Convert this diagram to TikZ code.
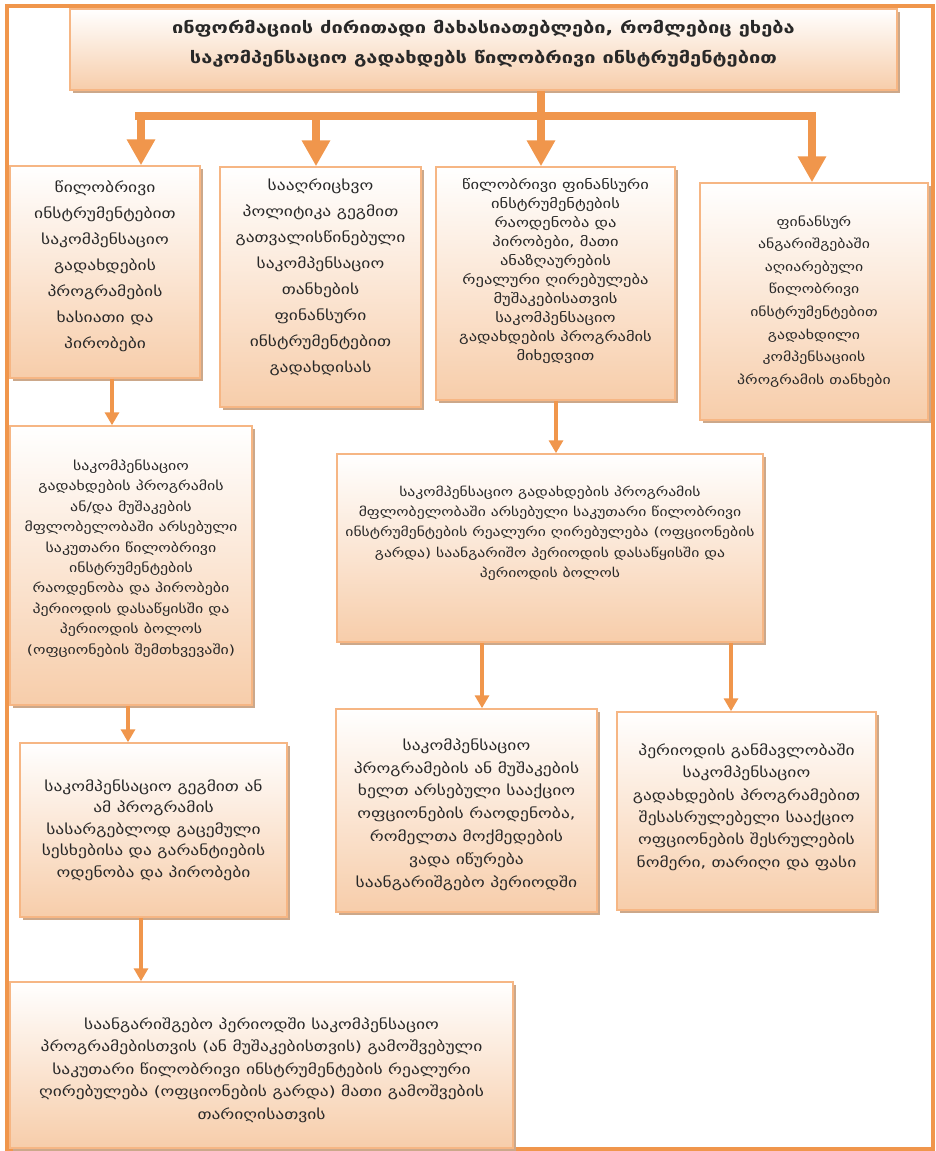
\documentclass[tikz,border=0pt]{standalone}
\usepackage{fontspec}
\setmainfont{DejaVu Sans}[FakeStretch=1.25]
\usetikzlibrary{arrows.meta,shadows}
\definecolor{frameor}{RGB}{240,150,76}
\definecolor{boxline}{RGB}{246,182,132}
\definecolor{peach}{RGB}{247,205,170}
\definecolor{shade}{RGB}{204,168,138}
\definecolor{txt}{RGB}{40,40,40}
\tikzset{
  infobox/.style={draw=boxline, line width=1.5pt, top color=white, bottom color=peach,
    inner sep=0pt,
    drop shadow={shadow xshift=3pt, shadow yshift=-3pt, fill=shade, opacity=1}},
  boxtext/.style={align=center, text=txt, inner sep=0pt, font=\fontsize{14}{22.5}\selectfont},
  trunk/.style={draw=frameor, line width=8pt},
  bigarrow/.style={draw=frameor, line width=8pt, -{Triangle[width=27pt,length=26pt]}},
  smallarrow/.style={draw=frameor, line width=4pt, -{Triangle[width=14pt,length=13pt]}},
}
\begin{document}
\begin{tikzpicture}[x=1pt,y=-1pt]
\useasboundingbox (0,0) rectangle (936,1151);
% outer frame
\draw[frameor, line width=4pt] (6.5,5.5) rectangle (933,1149);

% boxes
\node[infobox, minimum width=827pt, minimum height=81pt] (title) at (483.5,49.5) {};
\node[infobox, minimum width=190pt, minimum height=212pt] (boxA) at (105,272) {};
\node[infobox, minimum width=201pt, minimum height=240pt] (boxB) at (320.5,287) {};
\node[infobox, minimum width=239pt, minimum height=233pt] (boxC) at (555.5,283.5) {};
\node[infobox, minimum width=228pt, minimum height=237pt] (boxD) at (814,301.5) {};
\node[infobox, minimum width=242pt, minimum height=279pt] (boxE) at (131,565.5) {};
\node[infobox, minimum width=426pt, minimum height=188pt] (boxF) at (550,548) {};
\node[infobox, minimum width=267pt, minimum height=174pt] (boxG) at (153.5,830) {};
\node[infobox, minimum width=261pt, minimum height=203pt] (boxH) at (466.5,810.5) {};
\node[infobox, minimum width=259pt, minimum height=198pt] (boxI) at (746.5,811) {};
\node[infobox, minimum width=503pt, minimum height=166pt] (boxJ) at (261.5,1065) {};

% texts
\node[boxtext, font=\bfseries\fontsize{16}{30}\selectfont] (tTitle) at ([yshift=6pt]title.center)
  {ინფორმაციის ძირითადი მახასიათებლები, რომლებიც ეხება\\საკომპენსაციო გადახდებს წილობრივი ინსტრუმენტებით};
\node[boxtext, font=\fontsize{14}{26}\selectfont] (tA) at ([yshift=6pt]boxA.center)
  {წილობრივი\\ინსტრუმენტებით\\საკომპენსაციო\\გადახდების\\პროგრამების\\ხასიათი და\\პირობები};
\node[boxtext, font=\fontsize{14}{26}\selectfont] (tB) at ([yshift=10pt]boxB.center)
  {სააღრიცხვო\\პოლიტიკა გეგმით\\გათვალისწინებული\\საკომპენსაციო\\თანხების\\ფინანსური\\ინსტრუმენტებით\\გადახდისას};
\node[boxtext, font=\fontsize{13.2}{19}\selectfont] (tC) at ([yshift=12pt]boxC.center)
  {წილობრივი ფინანსური\\ინსტრუმენტების\\რაოდენობა და\\პირობები, მათი\\ანაზღაურების\\რეალური ღირებულება\\მუშაკებისათვის\\საკომპენსაციო\\გადახდების პროგრამის\\მიხედვით};
\node[boxtext, font=\fontsize{12.6}{22.6}\selectfont] (tD) at (boxD.center)
  {ფინანსურ\\ანგარიშგებაში\\აღიარებული\\წილობრივი\\ინსტრუმენტებით\\გადახდილი\\კომპენსაციის\\პროგრამის თანხები};
\node[boxtext, font=\fontsize{12.7}{20.4}\selectfont] (tE) at ([yshift=7pt]boxE.center)
  {საკომპენსაციო\\გადახდების პროგრამის\\ან/და მუშაკების\\მფლობელობაში არსებული\\საკუთარი წილობრივი\\ინსტრუმენტების\\რაოდენობა და პირობები\\პერიოდის დასაწყისში და\\პერიოდის ბოლოს\\(ოფციონების შემთხვევაში)};
\node[boxtext, font=\fontsize{12.5}{20.3}\selectfont] (tF) at ([yshift=15pt]boxF.center)
  {საკომპენსაციო გადახდების პროგრამის\\მფლობელობაში არსებული საკუთარი წილობრივი\\ინსტრუმენტების რეალური ღირებულება (ოფციონების\\გარდა) საანგარიშო პერიოდის დასაწყისში და\\პერიოდის ბოლოს};
\node[boxtext, font=\fontsize{14}{21.5}\selectfont] (tG) at (boxG.center)
  {საკომპენსაციო გეგმით ან\\ამ პროგრამის\\სასარგებლოდ გაცემული\\სესხებისა და გარანტიების\\ოდენობა და პირობები};
\node[boxtext, font=\fontsize{14}{22.8}\selectfont] (tH) at ([yshift=-4pt]boxH.center)
  {საკომპენსაციო\\პროგრამების ან მუშაკების\\ხელთ არსებული სააქციო\\ოფციონების რაოდენობა,\\რომელთა მოქმედების\\ვადა იწურება\\საანგარიშგებო პერიოდში};
\node[boxtext, font=\fontsize{14}{22.4}\selectfont] (tI) at ([yshift=4pt]boxI.center)
  {პერიოდის განმავლობაში\\საკომპენსაციო\\გადახდების პროგრამებით\\შესასრულებელი სააქციო\\ოფციონების შესრულების\\ნომერი, თარიღი და ფასი};
\node[boxtext] (tJ) at ([yshift=-5pt]boxJ.center)
  {საანგარიშგებო პერიოდში საკომპენსაციო\\პროგრამებისთვის (ან მუშაკებისთვის) გამოშვებული\\საკუთარი წილობრივი ინსტრუმენტების რეალური\\ღირებულება (ოფციონების გარდა) მათი გამოშვების\\თარიღისათვის};

% branch from the title to the first row
\coordinate (bus) at (0,116);
\coordinate (xl) at (135,0);
\coordinate (xr) at (816,0);
\coordinate (xa) at (141,0);
\coordinate (xb) at (316,0);
\coordinate (xc) at (541,0);
\coordinate (xd) at (812,0);
\draw[trunk] (title.south -| xc) -- (bus -| xc);
\draw[trunk] (bus -| xl) -- (bus -| xr);
\draw[bigarrow] (bus -| xa) -- (boxA.north -| xa);
\draw[bigarrow] (bus -| xb) -- (boxB.north -| xb);
\draw[bigarrow] (bus -| xc) -- (boxC.north -| xc);
\draw[bigarrow] (bus -| xd) -- (boxD.north -| xd);

% chains below
\coordinate (xae) at (112,0);
\coordinate (xeg) at (128,0);
\coordinate (xgj) at (141,0);
\coordinate (xcf) at (556,0);
\coordinate (xfh) at (482,0);
\coordinate (xfi) at (731,0);
\draw[smallarrow] (boxA.south -| xae) -- (boxE.north -| xae);
\draw[smallarrow] (boxE.south -| xeg) -- (boxG.north -| xeg);
\draw[smallarrow] (boxG.south -| xgj) -- (boxJ.north -| xgj);
\draw[smallarrow] (boxC.south -| xcf) -- (boxF.north -| xcf);
\draw[smallarrow] (boxF.south -| xfh) -- (boxH.north -| xfh);
\draw[smallarrow] (boxF.south -| xfi) -- (boxI.north -| xfi);
\end{tikzpicture}
\end{document}
